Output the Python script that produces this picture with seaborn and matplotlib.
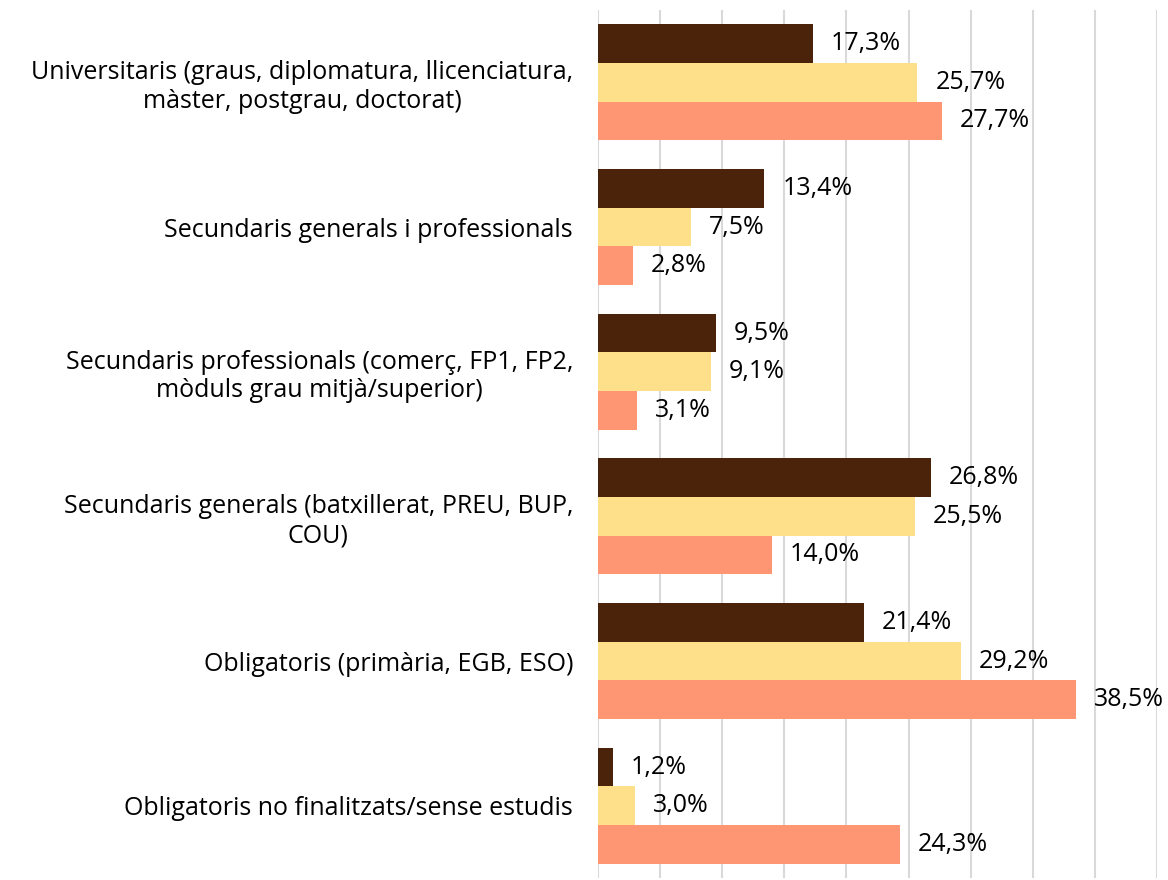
import matplotlib
matplotlib.use("Agg")
import matplotlib.pyplot as plt
import seaborn as sns
import pandas as pd

# Data

categories = [
    "Universitaris (graus, diplomatura, llicenciatura,\nmàster, postgrau, doctorat)",
    "Secundaris generals i professionals",
    "Secundaris professionals (comerç, FP1, FP2,\nmòduls grau mitjà/superior)",
    "Secundaris generals (batxillerat, PREU, BUP,\nCOU)",
    "Obligatoris (primària, EGB, ESO)",
    "Obligatoris no finalitzats/sense estudis",
]

series_names = ["Sèrie 1", "Sèrie 2", "Sèrie 3"]

serie_1 = [17.3, 13.4, 9.5, 26.8, 21.4, 1.2]
serie_2 = [25.7, 7.5, 9.1, 25.5, 29.2, 3.0]
serie_3 = [27.7, 2.8, 3.1, 14.0, 38.5, 24.3]

colors = ["#4A230A", "#FFE08A", "#FF9673"]

rows = []
for name, values in zip(series_names, [serie_1, serie_2, serie_3]):
    for cat, v in zip(categories, values):
        rows.append({"categoria": cat, "serie": name, "valor": v})
df = pd.DataFrame(rows)

sns.set_style("white")
plt.rcParams["font.family"] = ["Open Sans", "DejaVu Sans"]

fig = plt.figure(figsize=(11.68, 8.8), dpi=100)
ax = fig.add_axes([598 / 1168, 2 / 880, (1157 - 598) / 1168, 868 / 880])

sns.barplot(
    data=df,
    x="valor",
    y="categoria",
    hue="serie",
    order=categories,
    hue_order=series_names,
    palette=colors,
    orient="h",
    width=0.8,
    saturation=1,
    linewidth=0,
    legend=False,
    ax=ax,
)

for container in ax.containers:
    labels = [f"{b.get_width():.1f}".replace(".", ",") + "%" for b in container]
    ax.bar_label(container, labels=labels, padding=13, fontsize=18,
                 color="#000000", clip_on=False)

ax.set_xlim(0, 45)
ax.set_xticks(range(0, 46, 5))
ax.set_xticklabels([])
ax.tick_params(axis="x", length=0)
ax.tick_params(axis="y", length=0, pad=18, labelsize=18, labelcolor="#000000")
ax.grid(axis="x", color="#D9D9D9", linewidth=1.5)
ax.set_axisbelow(True)

for label in ax.get_yticklabels():
    label.set_multialignment("center")

for spine in ax.spines.values():
    spine.set_visible(False)

ax.set_xlabel("")
ax.set_ylabel("")

plt.savefig("out.png", dpi=100)
